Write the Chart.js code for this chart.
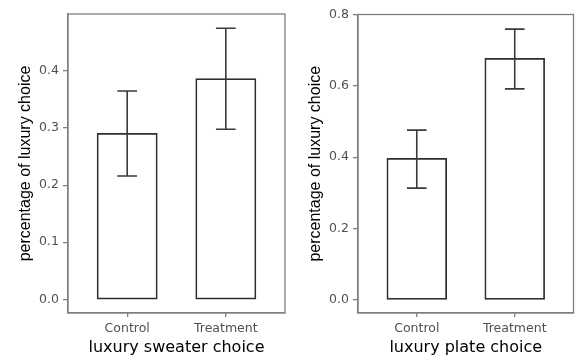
<!DOCTYPE html>
<html>
<head>
<meta charset="utf-8">
<script src="https://cdn.jsdelivr.net/npm/chart.js@4/dist/chart.umd.min.js"></script>
<style>
  html, body { margin: 0; padding: 0; background: #ffffff; }
  #wrap { position: relative; width: 575px; height: 356px; overflow: hidden; background: #fff; }
  .panel { position: absolute; top: 0; }
</style>
</head>
<body>
<div id="wrap">
  <div class="panel" style="left:0px;"><canvas id="c1" width="290" height="356"></canvas></div>
  <div class="panel" style="left:290px;"><canvas id="c2" width="285" height="356"></canvas></div>
</div>
<script>
// ---- data ----
const categories = ['Control', 'Treatment'];
const categoryPositions = [1, 2];

const sweaterMeans = [0.290, 0.386];
const sweaterLower = [0.216, 0.298];
const sweaterUpper = [0.365, 0.475];
const sweaterTicks = [0.0, 0.1, 0.2, 0.3, 0.4];

const plateMeans = [0.395, 0.676];
const plateLower = [0.313, 0.592];
const plateUpper = [0.476, 0.760];
const plateTicks = [0.0, 0.2, 0.4, 0.6, 0.8];

const yTitle = 'percentage of luxury choice';
const sweaterTitle = 'luxury sweater choice';
const plateTitle = 'luxury plate choice';

// ---- styling ----
const AXIS_GREY = '#7f7f7f';
const TICK_TEXT = '#505050';
const INK = '#2e2e2e';
const HFONT = "'DejaVu Sans', 'Liberation Sans', sans-serif";
const VFONT = "'Liberation Sans', Arial, sans-serif";

const boxPlugin = {
  id: 'panelBox',
  afterDraw(chart) {
    const a = chart.chartArea, ctx = chart.ctx;
    ctx.save();
    ctx.strokeStyle = AXIS_GREY;
    ctx.lineWidth = 1.3;
    ctx.strokeRect(a.left, a.top, a.right - a.left, a.bottom - a.top);
    ctx.restore();
  }
};

const errorBarPlugin = {
  id: 'errorBars',
  afterDatasetsDraw(chart, args, opts) {
    const xs = chart.scales.x, ys = chart.scales.y, ctx = chart.ctx;
    ctx.save();
    ctx.strokeStyle = '#3a3a3a';
    ctx.lineWidth = 1.6;
    opts.x.forEach((xv, i) => {
      const px = xs.getPixelForValue(xv);
      const half = xs.getPixelForValue(xv + 0.1) - px;
      const pl = ys.getPixelForValue(opts.lower[i]);
      const pu = ys.getPixelForValue(opts.upper[i]);
      ctx.beginPath();
      ctx.moveTo(px, pl); ctx.lineTo(px, pu);
      ctx.moveTo(px - half, pu); ctx.lineTo(px + half, pu);
      ctx.moveTo(px - half, pl); ctx.lineTo(px + half, pl);
      ctx.stroke();
    });
    ctx.restore();
  }
};

function makeChart(id, means, lower, upper, ticks, yMin, yMax, xTitle, pad) {
  const data = categoryPositions.map((x, i) => ({ x: x, y: means[i] }));
  return new Chart(document.getElementById(id), {
    type: 'bar',
    data: {
      datasets: [{
        data: data,
        backgroundColor: '#ffffff',
        borderColor: INK,
        borderWidth: 1.7,
        borderSkipped: false,
        inflateAmount: 0.85,
        barPercentage: 0.6,
        categoryPercentage: 1.0
      }]
    },
    options: {
      responsive: false,
      animation: false,
      devicePixelRatio: 1,
      layout: { padding: pad },
      plugins: {
        legend: { display: false },
        tooltip: { enabled: false },
        errorBars: { x: categoryPositions, lower: lower, upper: upper }
      },
      scales: {
        x: {
          type: 'linear',
          offset: false,
          min: 0.4,
          max: 2.6,
          afterBuildTicks: (s) => { s.ticks = categoryPositions.map(v => ({ value: v })); },
          afterFit: (s) => { s.height = 43; },
          grid: { offset: false, drawOnChartArea: false, drawTicks: true, tickLength: 4, color: AXIS_GREY, lineWidth: 1.3 },
          border: { display: true, color: AXIS_GREY, width: 1.3 },
          ticks: {
            autoSkip: false,
            maxRotation: 0,
            padding: 4,
            color: TICK_TEXT,
            font: { family: HFONT, size: 12.5, lineHeight: 1.2 },
            callback: (v) => categories[categoryPositions.indexOf(v)]
          },
          title: {
            display: true,
            text: xTitle,
            color: '#000000',
            padding: { top: 0, bottom: 0 },
            font: { family: HFONT, size: 16, lineHeight: 1 }
          }
        },
        y: {
          type: 'linear',
          min: yMin,
          max: yMax,
          afterBuildTicks: (s) => { s.ticks = ticks.map(v => ({ value: v })); },
          afterFit: (s) => { s.width = 68; },
          grid: { drawOnChartArea: false, drawTicks: true, tickLength: 5, color: AXIS_GREY, lineWidth: 1.3 },
          border: { display: true, color: AXIS_GREY, width: 1.3 },
          ticks: {
            padding: 4,
            color: TICK_TEXT,
            font: { family: HFONT, size: 12.5 },
            callback: (v) => Number(v).toFixed(1)
          },
          title: {
            display: true,
            text: yTitle,
            color: '#000000',
            padding: { top: 17.5, bottom: 0 },
            font: { family: VFONT, size: 16, lineHeight: 1 }
          }
        }
      }
    },
    plugins: [boxPlugin, errorBarPlugin]
  });
}

makeChart('c1', sweaterMeans, sweaterLower, sweaterUpper, sweaterTicks, -0.024, 0.5, sweaterTitle,
  { top: 14, right: 5, bottom: 0, left: 0 });
makeChart('c2', plateMeans, plateLower, plateUpper, plateTicks, -0.038, 0.801, plateTitle,
  { top: 14.5, right: 1.5, bottom: 0, left: 0 });
</script>
</body>
</html>
